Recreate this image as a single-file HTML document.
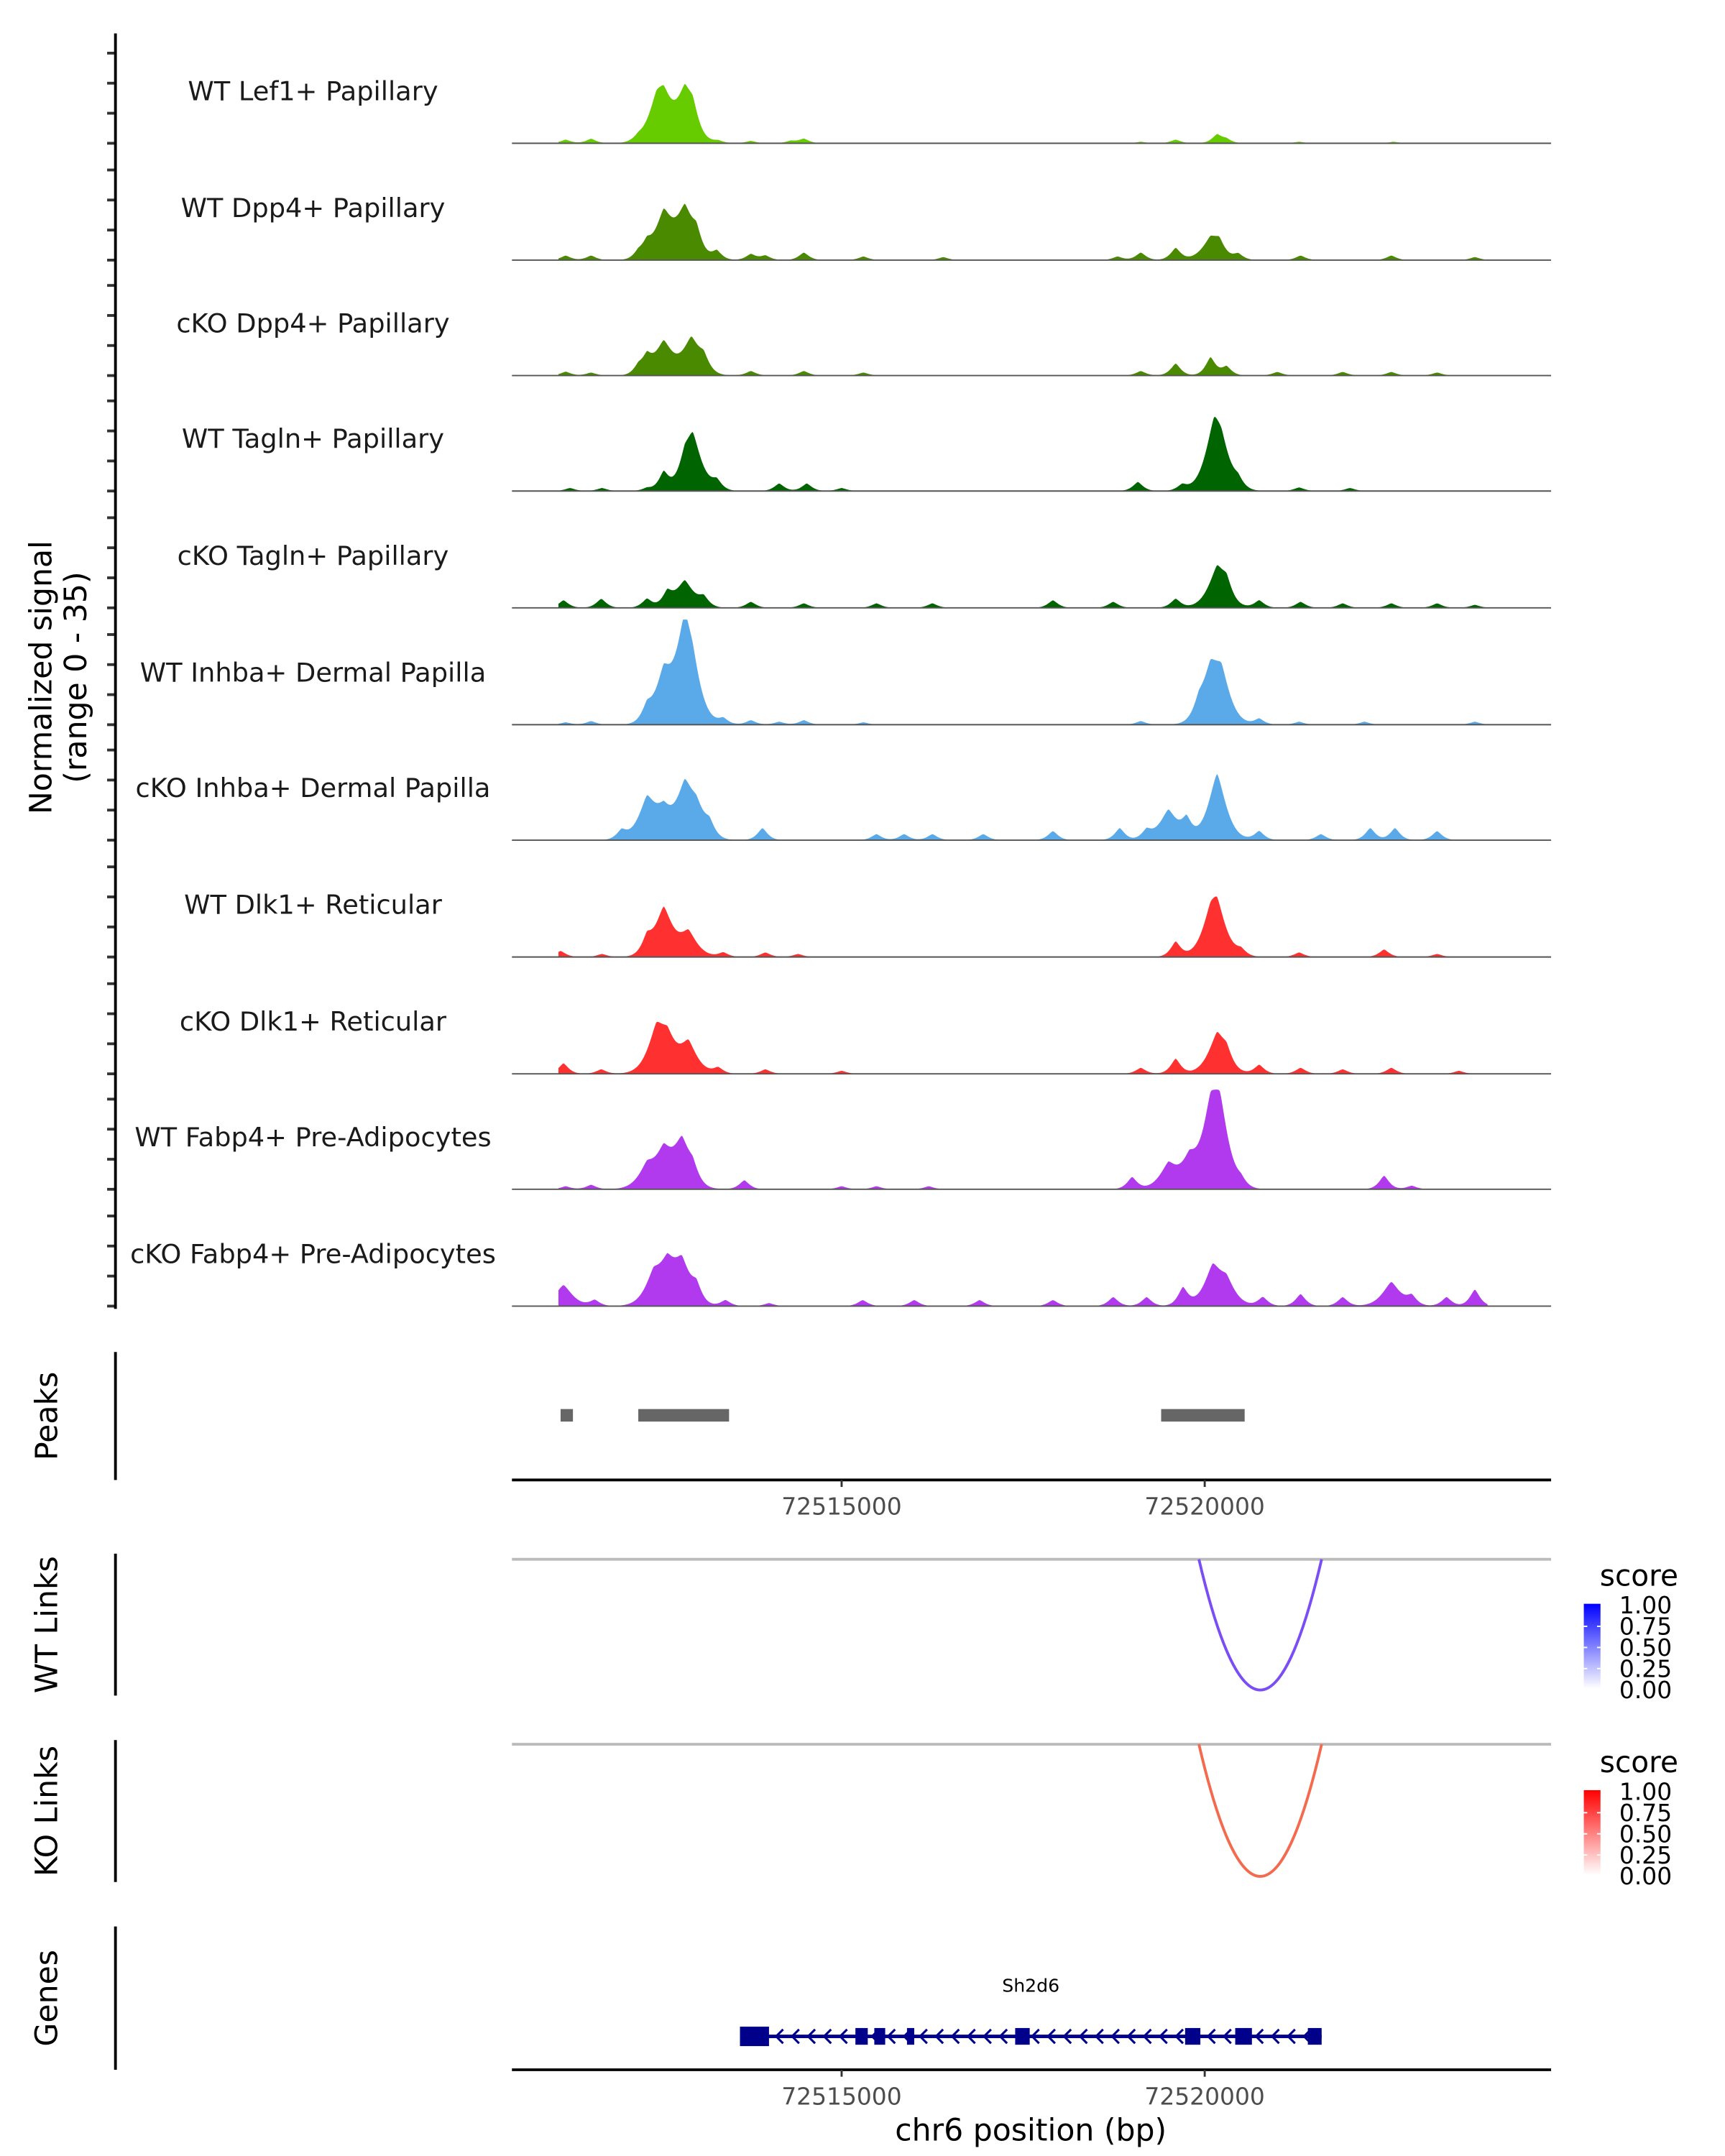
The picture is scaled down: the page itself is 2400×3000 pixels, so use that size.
<!DOCTYPE html>
<html><head><meta charset="utf-8"><style>
html,body{margin:0;padding:0;background:#fff;}
svg{display:block;font-family:"DejaVu Sans","Liberation Sans",sans-serif;}
</style></head><body>
<svg id="fig" xmlns="http://www.w3.org/2000/svg" width="2400" height="3000" viewBox="0 0 1240 1550">
<rect width="1240" height="1550" fill="#fff"/>
<g id="tracks"></g>
<g id="axes"></g>
</svg>
<script>
// ---- data (genomic positions in kb offset from chr6:72,510,000) ----
const trackNames = ["WT Lef1+ Papillary","WT Dpp4+ Papillary","cKO Dpp4+ Papillary","WT Tagln+ Papillary","cKO Tagln+ Papillary","WT Inhba+ Dermal Papilla","cKO Inhba+ Dermal Papilla","WT Dlk1+ Reticular","cKO Dlk1+ Reticular","WT Fabp4+ Pre-Adipocytes","cKO Fabp4+ Pre-Adipocytes"];
const trackColors = ["#66cc00","#4a8a00","#4a8a00","#006400","#006400","#5aaaea","#5aaaea","#ff3030","#ff3030","#b23aee","#b23aee"];
const peakPos = [
 [1.2,1.55,2.2,2.45,2.55,2.84,2.95,3.3,3.75,4.3,4.48,9.12,9.6,10.17,10.3,11.3,12.6],
 [1.2,1.55,2.2,2.32,2.55,2.84,3.0,3.28,3.75,3.95,4.48,5.3,6.4,8.8,9.12,9.6,10.08,10.2,10.46,11.32,12.57,13.72],
 [1.2,1.55,2.2,2.32,2.55,2.93,3.1,3.75,4.48,5.3,9.12,9.6,10.08,10.3,11.0,11.9,12.57,13.2],
 [1.26,1.7,2.32,2.55,2.84,2.95,3.28,4.14,4.52,5.0,9.08,9.69,10.13,10.23,10.46,11.3,12.0],
 [1.17,1.69,2.32,2.6,2.84,3.1,3.75,4.48,5.48,6.25,7.91,8.74,9.6,10.17,10.3,10.75,11.32,11.9,12.57,13.2,13.72],
 [1.2,1.55,2.32,2.55,2.84,2.95,3.37,3.75,4.14,4.48,5.3,9.12,9.92,10.08,10.23,10.75,11.3,12.2,13.72],
 [1.97,2.32,2.55,2.84,3.0,3.18,3.91,5.48,5.86,6.25,6.95,7.91,8.83,9.2,9.5,9.75,10.17,10.75,11.6,12.28,12.62,13.2],
 [1.13,1.7,2.32,2.55,2.89,3.37,3.95,4.4,9.6,10.08,10.17,10.5,11.3,12.47,13.2],
 [1.17,1.69,2.45,2.6,2.89,3.3,3.95,5.0,9.12,9.6,10.17,10.3,10.75,11.32,11.9,12.57,13.5],
 [1.2,1.55,2.32,2.55,2.8,2.95,3.66,5.0,5.48,6.2,9.0,9.5,9.79,10.08,10.21,10.5,12.47,12.85],
 [1.17,1.6,2.41,2.6,2.8,3.0,3.4,4.0,5.29,6.0,6.9,7.91,8.74,9.2,9.7,10.11,10.3,10.8,11.32,11.9,12.57,12.85,13.33,13.72]
];
const peakHeights = [
 [1.2,1.5,1.2,10,11,16,6,0.8,0.8,0.8,1.5,0.5,1.2,2.8,1.2,0.5,0.5],
 [1.5,1.5,2,4,15,16,6,3,2,1.5,2.5,1.2,1,1.2,2.5,4,7,4,2,1.5,1.5,1],
 [1.3,1,2.5,5,11,12,4,1.5,1.5,1,1.5,4,6,3,1.2,1.2,1.2,1],
 [1,1,1,6,5,18,3,2.5,2.5,1,3,2,19,9,2.5,1.2,1],
 [2.5,3,3,4.5,9,3,2,1.5,1.5,1.5,2.5,2,3,13,5,2.5,2,1.5,1.5,1.5,1],
 [0.8,1.2,4.5,16,30,9,2,1.5,1,1.5,0.8,1.2,4,15,14,2,1,1,1],
 [3,13,8,16,8,4,4,2,2,2,2,3,4,3,10,6,22,3,2,4,4,3],
 [2,1,5,16,8,1.5,1.5,1,5,9,14,2,1.5,2.5,1],
 [3.5,1.5,13,9,10,2,1.5,1,2,5,13,4,3,2,1.5,2,1],
 [1,1.5,7,11,15,4,3,1,1,1,4,8,9,20,22,2,4.5,1.2],
 [7,2,9,11,13,5,2,1,2,2,2,2,3,3,6,12,7,3,4,3,8,3,3,5.5]
];
const yMax = 35;
const yTicks = [0,10,20,30];
const peakRegions = [[1.13,1.3],[2.2,3.45],[9.4,10.55]];
const geneSpan = [3.6,11.61];
const geneExons = [[3.6,4.0],[5.19,5.36],[5.45,5.6],[5.9,6.0],[7.39,7.59],[9.73,9.94],[10.42,10.65],[11.42,11.61]];
const wtLink = [9.92,11.61];
const koLink = [9.92,11.61];
const xTicks = [5,10];
const xTickLabels = ["72515000","72520000"];
const legendTicks = ["1.00","0.75","0.50","0.25","0.00"];

// ---- scales ----
const X0 = 368, X1 = 1115, KB0 = 0.46, KB1 = 14.77;
function xs(kb){ return X0 + (kb-KB0)/(KB1-KB0)*(X1-X0); }
const baseY = [103,187,270,353,437,521,604,688,772,855,939];
const PXU = 2.16;
function ys(v,b){ return b - Math.min(v,yMax)*PXU; }

const NS = "http://www.w3.org/2000/svg";
function mk(tag, attrs, parent){ const e=document.createElementNS(NS,tag); for(const k in attrs) e.setAttribute(k,attrs[k]); parent.appendChild(e); return e; }
const T = document.getElementById('tracks');
const A = document.getElementById('axes');

trackNames.forEach((name,i)=>{
  const b = baseY[i];
  const g = mk('g',{},T);
  
  
  const lab = mk('text',{x:225,y:b-31,'font-size':19,'text-anchor':'middle',fill:'#1a1a1a'},g);
  lab.textContent = name;
  
  
  let d = "M" + xs(1.1).toFixed(2) + "," + b;
  for(let kb=1.1; kb<=13.9; kb+=0.012){
    let v = 0;
    peakPos[i].forEach((p,j)=>{
      const h = peakHeights[i][j];
      const s = h>6 ? 0.12 : 0.07;
      const dd = Math.abs(kb-p)/s;
      v += h*Math.exp(-0.6*Math.pow(dd,1.4));
    });
    d += "L" + xs(kb).toFixed(2) + "," + ys(v,b).toFixed(2);
  }
  d += "L" + xs(13.9).toFixed(2) + "," + b + "Z";
  const area = mk('path',{d:d,fill:trackColors[i],stroke:'none'},g);
  
  
  const bl = mk('line',{x1:X0,x2:X1,y1:b,y2:b,stroke:'#555','stroke-width':1},g);
  
  
  yTicks.forEach(t=>{
    const yy = ys(t,b);
    mk('line',{x1:77,x2:83,y1:yy,y2:yy,stroke:'#333','stroke-width':2},A);
  });
});

mk('line',{x1:83,x2:83,y1:24,y2:941,stroke:'#000','stroke-width':2},A);
const yt = mk('text',{transform:'translate(42,487) rotate(-90)','font-size':22,'text-anchor':'middle',fill:'#000'},A);


yt.innerHTML = '<tspan x="0" dy="-5">Normalized signal</tspan><tspan x="0" dy="25">(range 0 - 35)</tspan>';

function panelAxis(y1,y2,label){
  mk('line',{x1:83,x2:83,y1:y1,y2:y2,stroke:'#000','stroke-width':2},A);
  const t = mk('text',{transform:`translate(41,${(y1+y2)/2}) rotate(-90)`,'font-size':22,'text-anchor':'middle',fill:'#000'},A);
  t.textContent = label;
  
  
}
panelAxis(972,1064,'Peaks');
peakRegions.forEach(r=>{
  const rc = mk('rect',{x:xs(r[0]),y:1013,width:xs(r[1])-xs(r[0]),height:9,fill:'#666'},A);
  
  
});
function xAxis(y){
  mk('line',{x1:X0,x2:X1,y1:y,y2:y,stroke:'#000','stroke-width':2},A);
  xTicks.forEach((t,i)=>{
    mk('line',{x1:xs(t),x2:xs(t),y1:y,y2:y+5,stroke:'#333','stroke-width':1.5},A);
    const tx = mk('text',{x:xs(t),y:y+25,'font-size':17,'text-anchor':'middle',fill:'#4d4d4d'},A);
    tx.textContent = xTickLabels[i];
    
    
  });
}
xAxis(1064);

function linkPanel(y1,y2,top,link,color,legendY,gradId,c1,label){
  panelAxis(y1,y2,label);
  mk('line',{x1:X0,x2:X1,y1:top,y2:top,stroke:'#bbb','stroke-width':2},A);
  const a = xs(link[0]), c = xs(link[1]);
  const depth = y2 - 4 - top;
  const p = mk('path',{d:`M${a},${top} Q${(a+c)/2},${top+2*depth} ${c},${top}`,fill:'none',stroke:color,'stroke-width':2},A);
  
  
  const defs = mk('defs',{},A);
  const lg = mk('linearGradient',{id:gradId,x1:0,y1:1,x2:0,y2:0},defs);
  mk('stop',{offset:0,'stop-color':'#fff'},lg);
  mk('stop',{offset:1,'stop-color':c1},lg);
  const st = mk('text',{x:1150,y:legendY,'font-size':21,fill:'#000'},A);
  st.textContent = 'score';
  
  
  const bar = mk('rect',{x:1138.5,y:legendY+13,width:12,height:61,fill:`url(#${gradId})`},A);
  
  
  legendTicks.forEach((l,i)=>{
    const yy = legendY+14+i*15.2;
    if(i>0&&i<4){ mk('line',{x1:1138.5,x2:1141,y1:yy,y2:yy,stroke:'#fff'},A); mk('line',{x1:1148,x2:1150.5,y1:yy,y2:yy,stroke:'#fff'},A); }
    const t = mk('text',{x:1164,y:yy+6,'font-size':17,fill:'#000'},A);
    t.textContent = l;
    
    
  });
}
linkPanel(1117,1219,1121,wtLink,'#7a4df5',1140,'gwt','#0000ff','WT Links');
linkPanel(1251,1353,1254,koLink,'#f46a4e',1274,'gko','#ff0000','KO Links');

panelAxis(1385,1488,'Genes');
const gn = mk('text',{x:741,y:1432,'font-size':13,'text-anchor':'middle',fill:'#000'},A);
gn.textContent = 'Sh2d6';


const gl = mk('line',{x1:xs(geneSpan[0]),x2:xs(geneSpan[1]),y1:1464,y2:1464,stroke:'#00008b','stroke-width':2.5},A);


for(let x=xs(geneSpan[0])+28; x<xs(geneSpan[1])-8; x+=11.5){
  mk('path',{d:`M${x+3},${1459} L${x-2},${1464} L${x+3},${1469}`,fill:'none',stroke:'#00008b','stroke-width':1.6},A);
}
geneExons.forEach((e,i)=>{
  const tall = i===0 ? 14 : 12;
  const r = mk('rect',{x:xs(e[0]),y:1464-tall/2,width:xs(e[1])-xs(e[0]),height:tall,fill:'#00008b'},A);
  
  
});
xAxis(1488);
const xt = mk('text',{x:741,y:1539,'font-size':22,'text-anchor':'middle',fill:'#000'},A);
xt.textContent = 'chr6 position (bp)';


</script>
</body></html>
